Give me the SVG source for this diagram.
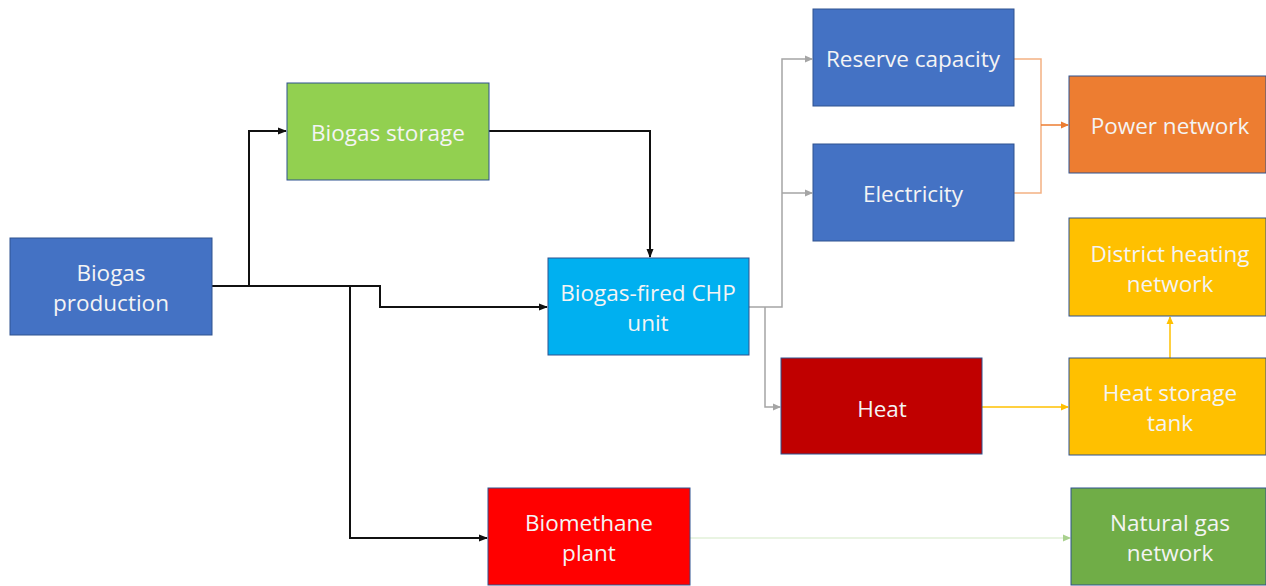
<svg xmlns="http://www.w3.org/2000/svg" width="1266" height="586" viewBox="0 0 1266 586">
<style>
.box{stroke:#2F528F;stroke-width:1}
.t{font-family:"Open Sans","Liberation Sans",sans-serif;font-size:22.5px;fill:#F4F4F4;text-anchor:middle;dominant-baseline:central}
.c{fill:none;stroke-width:1.5}
.k{stroke-width:2}
</style>
<defs>
<marker id="aK" markerWidth="9" markerHeight="9" refX="8" refY="4.5" orient="auto" markerUnits="userSpaceOnUse"><path d="M0,1 L9,4.5 L0,8 Z" fill="#111"/></marker>
<marker id="aG" markerWidth="8" markerHeight="8" refX="7" refY="4" orient="auto" markerUnits="userSpaceOnUse"><path d="M0,0.5 L8,4 L0,7.5 Z" fill="#A5A5A5"/></marker>
<marker id="aO" markerWidth="8" markerHeight="8" refX="7" refY="4" orient="auto" markerUnits="userSpaceOnUse"><path d="M0,0.5 L8,4 L0,7.5 Z" fill="#ED7D31"/></marker>
<marker id="aY" markerWidth="8" markerHeight="8" refX="7" refY="4" orient="auto" markerUnits="userSpaceOnUse"><path d="M0,0.5 L8,4 L0,7.5 Z" fill="#FFC000"/></marker>
<marker id="aL" markerWidth="8" markerHeight="8" refX="7" refY="4" orient="auto" markerUnits="userSpaceOnUse"><path d="M0,0.5 L8,4 L0,7.5 Z" fill="#A9D18E"/></marker>
</defs>
<rect width="1266" height="586" fill="#FFFFFF"/>
<g id="connectors">
<path class="c k" stroke="#111" d="M212,286 H249 V131 H286" marker-end="url(#aK)"/>
<path class="c k" stroke="#111" d="M212,286 H380 V307 H547" marker-end="url(#aK)"/>
<path class="c k" stroke="#111" d="M350,286 V538 H487" marker-end="url(#aK)"/>
<path class="c k" stroke="#111" d="M489,131 H650 V257" marker-end="url(#aK)"/>
<path class="c" stroke="#A5A5A5" d="M749,307 H782 V59 H812" marker-end="url(#aG)"/>
<path class="c" stroke="#A5A5A5" d="M782,193 H812" marker-end="url(#aG)"/>
<path class="c" stroke="#A5A5A5" d="M765,307 V407 H780" marker-end="url(#aG)"/>
<path class="c" stroke="#F4B183" d="M1014,59 H1041 V193 H1014"/>
<path class="c" stroke="#ED7D31" d="M1041,125 H1068" marker-end="url(#aO)"/>
<path class="c" stroke="#FFC000" d="M982,407 H1068" marker-end="url(#aY)"/>
<path class="c" stroke="#FFC000" d="M1170,358 V317" marker-end="url(#aY)"/>
<path class="c" stroke="#E2F0D9" d="M690,538 H1070" marker-end="url(#aL)"/>
</g>
<g id="biogas-production"><rect class="box" x="10" y="238" width="202" height="97" fill="#4472C4"/><text class="t" x="111" y="272">Biogas</text><text class="t" x="111" y="302">production</text></g>
<g id="biogas-storage"><rect class="box" x="287" y="83" width="202" height="97" fill="#92D050" stroke="#6E9A3E"/><text class="t" x="388" y="132">Biogas storage</text></g>
<g id="chp"><rect class="box" x="548" y="258" width="201" height="97" fill="#00B0F0"/><text class="t" x="648" y="292">Biogas-fired CHP</text><text class="t" x="648" y="322">unit</text></g>
<g id="reserve"><rect class="box" x="813" y="9" width="201" height="97" fill="#4472C4"/><text class="t" x="913" y="58">Reserve capacity</text></g>
<g id="electricity"><rect class="box" x="813" y="144" width="201" height="97" fill="#4472C4"/><text class="t" x="913" y="193">Electricity</text></g>
<g id="power-network"><rect class="box" x="1069" y="76" width="197" height="97" fill="#ED7D31" stroke="#AE5A21"/><text class="t" x="1170" y="125">Power network</text></g>
<g id="district-heating"><rect class="box" x="1069" y="218" width="197" height="98" fill="#FFC000" stroke="#BC8C00"/><text class="t" x="1170" y="253">District heating</text><text class="t" x="1170" y="283">network</text></g>
<g id="heat"><rect class="box" x="781" y="358" width="201" height="96" fill="#C00000" stroke="#7F0000"/><text class="t" x="882" y="408">Heat</text></g>
<g id="heat-storage"><rect class="box" x="1069" y="358" width="197" height="97" fill="#FFC000" stroke="#BC8C00"/><text class="t" x="1170" y="392">Heat storage</text><text class="t" x="1170" y="422">tank</text></g>
<g id="biomethane"><rect class="box" x="488" y="488" width="202" height="97" fill="#FF0000" stroke="#A00000"/><text class="t" x="589" y="522">Biomethane</text><text class="t" x="589" y="552">plant</text></g>
<g id="natural-gas"><rect class="box" x="1071" y="488" width="195" height="97" fill="#70AD47" stroke="#507E32"/><text class="t" x="1170" y="522">Natural gas</text><text class="t" x="1170" y="552">network</text></g>
</svg>
